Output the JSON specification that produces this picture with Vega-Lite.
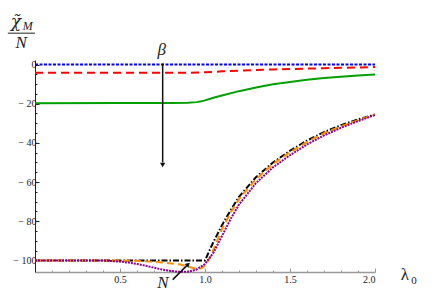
{
  "$schema": "https://vega.github.io/schema/vega-lite/v6.json",
  "width": 340,
  "height": 212,
  "autosize": {"type": "none"},
  "padding": {"left": 35, "top": 60, "right": 61, "bottom": 27},
  "config": {
    "view": {"stroke": null},
    "axis": {"labelFont": "Liberation Serif", "labelFontSize": 10, "labelColor": "#222", "grid": false, "title": null}
  },
  "datasets": {
    "blue": [{"lam": 0, "val": 0}, {"lam": 1, "val": 0}, {"lam": 2, "val": 0}],
    "red": [{"lam": 0, "val": -4.2}, {"lam": 0.5, "val": -4.2}, {"lam": 0.9, "val": -4.2}, {"lam": 1.0, "val": -4.0}, {"lam": 1.1, "val": -3.5}, {"lam": 1.2, "val": -3.1}, {"lam": 1.3, "val": -2.8}, {"lam": 1.4, "val": -2.5}, {"lam": 1.5, "val": -2.3}, {"lam": 1.6, "val": -2.1}, {"lam": 1.7, "val": -1.9}, {"lam": 1.8, "val": -1.7}, {"lam": 1.9, "val": -1.5}, {"lam": 2.0, "val": -1.3}],
    "green": [{"lam": 0, "val": -19.8}, {"lam": 0.5, "val": -19.7}, {"lam": 0.8, "val": -19.6}, {"lam": 0.9, "val": -19.5}, {"lam": 0.95, "val": -19.2}, {"lam": 0.98, "val": -18.8}, {"lam": 1.0, "val": -18.3}, {"lam": 1.03, "val": -17.5}, {"lam": 1.06, "val": -16.7}, {"lam": 1.1, "val": -15.8}, {"lam": 1.2, "val": -13.6}, {"lam": 1.3, "val": -11.7}, {"lam": 1.4, "val": -10.1}, {"lam": 1.5, "val": -8.9}, {"lam": 1.6, "val": -7.8}, {"lam": 1.7, "val": -6.9}, {"lam": 1.8, "val": -6.2}, {"lam": 1.9, "val": -5.6}, {"lam": 2.0, "val": -5.1}],
    "black": [{"lam": 0, "val": -100}, {"lam": 0.5, "val": -100}, {"lam": 1.0, "val": -100}, {"lam": 1.05, "val": -90.5}, {"lam": 1.1, "val": -82}, {"lam": 1.15, "val": -74.5}, {"lam": 1.2, "val": -67.5}, {"lam": 1.3, "val": -57.5}, {"lam": 1.4, "val": -50}, {"lam": 1.5, "val": -44}, {"lam": 1.6, "val": -38.8}, {"lam": 1.7, "val": -34.5}, {"lam": 1.8, "val": -31}, {"lam": 1.9, "val": -28}, {"lam": 2.0, "val": -25.5}],
    "orange": [{"lam": 0, "val": -100}, {"lam": 0.5, "val": -100}, {"lam": 0.55, "val": -100.1}, {"lam": 0.65, "val": -100.4}, {"lam": 0.75, "val": -101}, {"lam": 0.85, "val": -102}, {"lam": 0.9, "val": -103.2}, {"lam": 0.95, "val": -104.3}, {"lam": 0.98, "val": -104}, {"lam": 1.0, "val": -102.5}, {"lam": 1.03, "val": -98.5}, {"lam": 1.05, "val": -94.5}, {"lam": 1.1, "val": -84}, {"lam": 1.15, "val": -75.8}, {"lam": 1.2, "val": -68.7}, {"lam": 1.3, "val": -58.5}, {"lam": 1.4, "val": -50.8}, {"lam": 1.5, "val": -44.8}, {"lam": 1.6, "val": -39.5}, {"lam": 1.7, "val": -35.1}, {"lam": 1.8, "val": -31.5}, {"lam": 1.9, "val": -28.4}, {"lam": 2.0, "val": -25.6}],
    "purple": [{"lam": 0, "val": -100}, {"lam": 0.4, "val": -100}, {"lam": 0.45, "val": -100.3}, {"lam": 0.5, "val": -100.6}, {"lam": 0.55, "val": -101.1}, {"lam": 0.6, "val": -101.8}, {"lam": 0.65, "val": -102.7}, {"lam": 0.7, "val": -103.7}, {"lam": 0.75, "val": -104.7}, {"lam": 0.8, "val": -105.4}, {"lam": 0.85, "val": -105.8}, {"lam": 0.9, "val": -105.8}, {"lam": 0.95, "val": -104.6}, {"lam": 1.0, "val": -101.8}, {"lam": 1.05, "val": -96}, {"lam": 1.1, "val": -87.5}, {"lam": 1.15, "val": -79}, {"lam": 1.2, "val": -71.5}, {"lam": 1.3, "val": -60.5}, {"lam": 1.4, "val": -52.5}, {"lam": 1.5, "val": -46.3}, {"lam": 1.6, "val": -40.8}, {"lam": 1.7, "val": -36.2}, {"lam": 1.8, "val": -32.3}, {"lam": 1.9, "val": -28.9}, {"lam": 2.0, "val": -25.8}]
  },
  "layer": [
    {
      "data": {"name": "blue"},
      "mark": {"type": "line", "color": "#0000ff", "strokeWidth": 2, "strokeDash": [3, 1.5]},
      "encoding": {
        "x": {"field": "lam", "type": "quantitative", "scale": {"domain": [0, 2], "nice": false, "zero": false},
          "axis": {"orient": "bottom", "values": [0.5, 1, 1.5, 2], "format": ".1f", "tickSize": -4, "domainColor": "#999", "tickColor": "#999", "labelPadding": 6, "domainWidth": 1.5}},
        "y": {"field": "val", "type": "quantitative", "scale": {"domain": [-105.9, 2.3], "nice": false, "zero": false},
          "axis": {"orient": "left", "values": [0, -20, -40, -60, -80, -100], "labelExpr": "replace(datum.label, '−', '− ')", "tickSize": -4, "domainColor": "#222", "tickColor": "#222", "labelPadding": 3}}
      }
    },
    {
      "data": {"name": "red"},
      "mark": {"type": "line", "color": "#ff0000", "strokeWidth": 2, "strokeDash": [8, 5]},
      "encoding": {
        "x": {"field": "lam", "type": "quantitative", "axis": {"orient": "bottom", "values": [0.1, 0.2, 0.3, 0.4, 0.6, 0.7, 0.8, 0.9, 1.1, 1.2, 1.3, 1.4, 1.6, 1.7, 1.8, 1.9], "labels": false, "domain": false, "tickSize": -2, "tickColor": "#999"}},
        "y": {"field": "val", "type": "quantitative", "axis": {"orient": "left", "values": [-5, -10, -15, -25, -30, -35, -45, -50, -55, -65, -70, -75, -85, -90, -95], "labels": false, "domain": false, "tickSize": -2, "tickColor": "#222"}}
      }
    },
    {
      "data": {"name": "green"},
      "mark": {"type": "line", "color": "#00a000", "strokeWidth": 2},
      "encoding": {"x": {"field": "lam", "type": "quantitative", "axis": null}, "y": {"field": "val", "type": "quantitative", "axis": null}}
    },
    {
      "data": {"name": "black"},
      "mark": {"type": "line", "color": "#000000", "strokeWidth": 2, "strokeDash": [6, 2, 1.5, 2]},
      "encoding": {"x": {"field": "lam", "type": "quantitative", "axis": null}, "y": {"field": "val", "type": "quantitative", "axis": null}}
    },
    {
      "data": {"name": "orange"},
      "mark": {"type": "line", "color": "#ff8c00", "strokeWidth": 2, "strokeDash": [7, 4]},
      "encoding": {"x": {"field": "lam", "type": "quantitative", "axis": null}, "y": {"field": "val", "type": "quantitative", "axis": null}}
    },
    {
      "data": {"name": "purple"},
      "mark": {"type": "line", "color": "#8b008b", "strokeWidth": 2, "strokeDash": [2, 1]},
      "encoding": {"x": {"field": "lam", "type": "quantitative", "axis": null}, "y": {"field": "val", "type": "quantitative", "axis": null}}
    },
    {
      "data": {"values": [{"x1": 0.751, "y1": 0.5, "x2": 0.751, "y2": -50}, {"x1": 0.81, "y1": -109.8, "x2": 0.9, "y2": -102}]},
      "mark": {"type": "rule", "color": "#111", "strokeWidth": 1.5, "clip": false},
      "encoding": {"x": {"field": "x1", "type": "quantitative", "axis": null}, "y": {"field": "y1", "type": "quantitative", "axis": null}, "x2": {"field": "x2"}, "y2": {"field": "y2"}}
    },
    {
      "data": {"values": [{"x": 0.751, "y": -51.3, "a": 180}, {"x": 0.901, "y": -102.0, "a": 45}]},
      "mark": {"type": "point", "shape": "triangle-up", "filled": true, "color": "#111", "size": 28, "opacity": 1, "clip": false},
      "encoding": {"x": {"field": "x", "type": "quantitative", "axis": null}, "y": {"field": "y", "type": "quantitative", "axis": null}, "angle": {"field": "a", "type": "quantitative", "scale": null}}
    },
    {
      "data": {"values": [{"x": 0.745, "y": 7.4, "t": "β"}, {"x": 0.753, "y": -111.5, "t": "N"}, {"x": -0.082, "y": 11.2, "t": "N"}]},
      "mark": {"type": "text", "font": "Liberation Serif", "fontStyle": "italic", "fontSize": 17, "color": "#222", "clip": false, "baseline": "middle", "align": "center"},
      "encoding": {"x": {"field": "x", "type": "quantitative", "axis": null}, "y": {"field": "y", "type": "quantitative", "axis": null}, "text": {"field": "t"}}
    },
    {
      "data": {"values": [{"x": -0.112, "y": 21.5, "t": "χ̃"}]},
      "mark": {"type": "text", "font": "DejaVu Serif", "fontStyle": "italic", "fontSize": 17, "color": "#222", "clip": false, "baseline": "middle", "align": "center"},
      "encoding": {"x": {"field": "x", "type": "quantitative", "axis": null}, "y": {"field": "y", "type": "quantitative", "axis": null}, "text": {"field": "t"}}
    },
    {
      "data": {"values": [{"x": -0.043, "y": 19.5, "t": "M"}]},
      "mark": {"type": "text", "font": "Liberation Serif", "fontStyle": "italic", "fontSize": 12, "color": "#222", "clip": false, "baseline": "middle", "align": "center"},
      "encoding": {"x": {"field": "x", "type": "quantitative", "axis": null}, "y": {"field": "y", "type": "quantitative", "axis": null}, "text": {"field": "t"}}
    },
    {
      "data": {"values": [{"x1": -0.16, "x2": 0.0, "y": 16.0}]},
      "mark": {"type": "rule", "color": "#222", "strokeWidth": 1, "clip": false},
      "encoding": {"x": {"field": "x1", "type": "quantitative", "axis": null}, "x2": {"field": "x2"}, "y": {"field": "y", "type": "quantitative", "axis": null}}
    },
    {
      "data": {"values": [{"x": 2.176, "y": -107.4, "t": "λ"}]},
      "mark": {"type": "text", "font": "Liberation Serif", "fontSize": 17, "color": "#222", "clip": false, "baseline": "middle", "align": "center"},
      "encoding": {"x": {"field": "x", "type": "quantitative", "axis": null}, "y": {"field": "y", "type": "quantitative", "axis": null}, "text": {"field": "t"}}
    },
    {
      "data": {"values": [{"x": 2.229, "y": -110.5, "t": "0"}]},
      "mark": {"type": "text", "font": "Liberation Serif", "fontSize": 11, "color": "#222", "clip": false, "baseline": "middle", "align": "center"},
      "encoding": {"x": {"field": "x", "type": "quantitative", "axis": null}, "y": {"field": "y", "type": "quantitative", "axis": null}, "text": {"field": "t"}}
    }
  ],
  "resolve": {"axis": {"x": "independent", "y": "independent"}}
}
